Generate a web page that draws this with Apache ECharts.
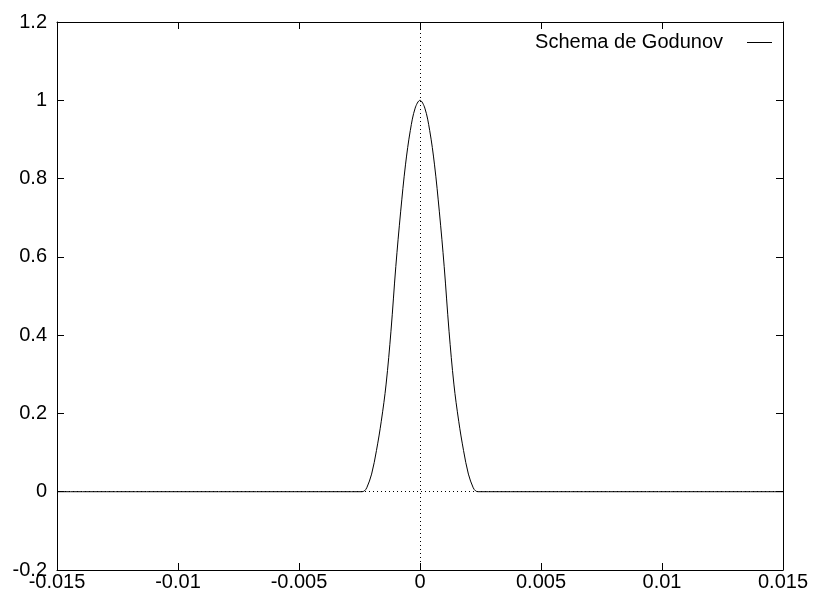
<!DOCTYPE html>
<html>
<head>
<meta charset="utf-8">
<script src="https://cdn.jsdelivr.net/npm/echarts@6/dist/echarts.min.js"></script>
<style>
html,body{margin:0;padding:0;background:#fff;}
#c{width:813px;height:601px;}
</style>
</head>
<body>
<div id="c"></div>
<script>
// Data
var seriesName = "Schema de Godunov";
var xValues = [-0.015, -0.0024, -0.0023, -0.0022, -0.0020, -0.0018, -0.0016, -0.0014, -0.0012, -0.0010, -0.0008, -0.0006, -0.0004, -0.0002, 0,
               0.0002, 0.0004, 0.0006, 0.0008, 0.0010, 0.0012, 0.0014, 0.0016, 0.0018, 0.0020, 0.0022, 0.0023, 0.0024, 0.015];
var yValues = [0, 0, 0.002, 0.010, 0.045, 0.105, 0.180, 0.275, 0.410, 0.575, 0.715, 0.835, 0.923, 0.980, 1.0,
               0.980, 0.923, 0.835, 0.715, 0.575, 0.410, 0.275, 0.180, 0.105, 0.045, 0.010, 0.002, 0, 0];
var xTicks = {min: -0.015, max: 0.015, interval: 0.005};
var yTicks = {min: -0.2, max: 1.2, interval: 0.2};

var pts = xValues.map(function (x, i) { return [x, yValues[i]]; });
var font = '"Liberation Sans", Arial, sans-serif';
var axisCol = '#000';

function xAxisDef(pos, showLabel) {
  return {
    type: 'value', position: pos, min: xTicks.min, max: xTicks.max, interval: xTicks.interval,
    axisLine: {show: true, onZero: false, lineStyle: {color: axisCol, width: 1}},
    axisTick: {show: true, inside: true, length: 7, lineStyle: {color: axisCol}},
    axisLabel: {show: showLabel, color: '#000', fontSize: 20, fontFamily: font, margin: 2},
    splitLine: {show: false}
  };
}
function yAxisDef(pos, showLabel) {
  return {
    type: 'value', position: pos, min: yTicks.min, max: yTicks.max, interval: yTicks.interval,
    axisLine: {show: true, onZero: false, lineStyle: {color: axisCol, width: 1}},
    axisTick: {show: true, inside: true, length: 7, lineStyle: {color: axisCol}},
    axisLabel: {show: showLabel, color: '#000', fontSize: 20, fontFamily: font, margin: 10},
    splitLine: {show: false}
  };
}

var chart = echarts.init(document.getElementById('c'), null, {renderer: 'canvas'});
chart.setOption({
  animation: false,
  backgroundColor: '#fff',
  grid: {left: 57, right: 30, top: 22, bottom: 31, containLabel: false},
  xAxis: [xAxisDef('bottom', true), xAxisDef('top', false)],
  yAxis: [yAxisDef('left', true), yAxisDef('right', false)],
  legend: {
    right: 41, top: 32.5, padding: 0, align: 'right', itemWidth: 25, itemHeight: 1, itemGap: 0,
    icon: 'rect',
    itemStyle: {color: '#000'},
    data: [seriesName],
    textStyle: {color: '#000', fontSize: 20, fontFamily: font, padding: [0, 19, 0, 0]}
  },
  series: [{
    name: seriesName,
    type: 'line',
    xAxisIndex: 0, yAxisIndex: 0,
    data: pts,
    smooth: 0.35,
    symbol: 'none',
    lineStyle: {color: '#000', width: 1},
    itemStyle: {color: '#000'},
    z: 3,
    markLine: {
      silent: true,
      symbol: ['none', 'none'],
      label: {show: false},
      lineStyle: {color: '#000', type: [1, 3], width: 1},
      data: [{xAxis: 0}, {yAxis: 0}]
    }
  }]
});
</script>
</body>
</html>
